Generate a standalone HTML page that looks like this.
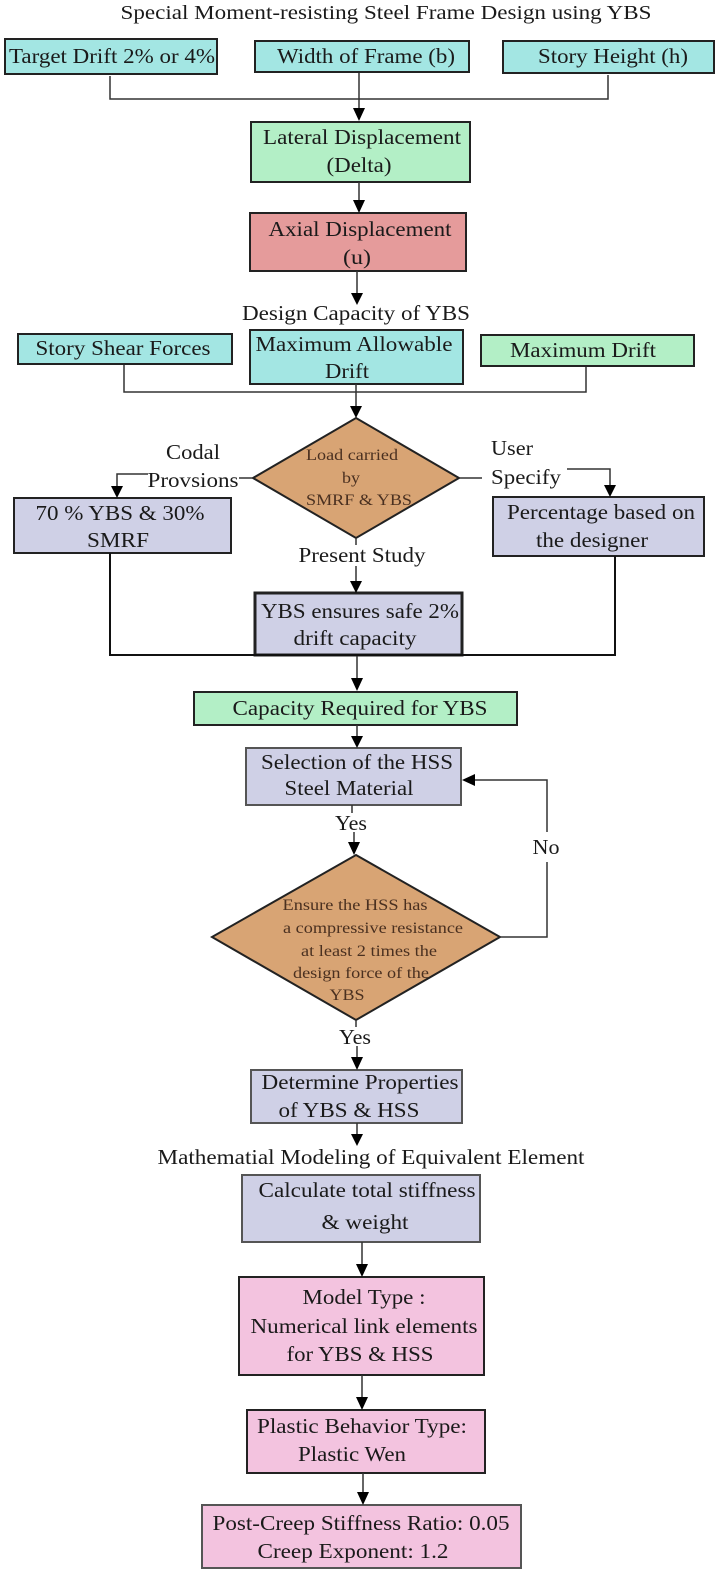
<!DOCTYPE html>
<html><head><meta charset="utf-8"><style>
html,body{margin:0;padding:0;background:#fff}
svg{display:block}
text{font-family:"Liberation Serif","Times New Roman",serif;fill:#1a1a1a}
.b{font-size:21px}
.d{font-size:16px;fill:#4a3020}
</style></head><body>
<svg width="718" height="1574" viewBox="0 0 718 1574" xmlns="http://www.w3.org/2000/svg">
<g stroke="#222" stroke-width="2">
<rect x="5" y="39" width="212" height="35" fill="#a3e6e3"/>
<rect x="255" y="41" width="214" height="31" fill="#a3e6e3"/>
<rect x="503" y="41" width="211" height="32" fill="#a3e6e3"/>
<rect x="251" y="122" width="219" height="60" fill="#b3efc6"/>
<rect x="250" y="213" width="216" height="58" fill="#e59b9b"/>
<rect x="18" y="334" width="214" height="30" fill="#a3e6e3"/>
<rect x="250" y="330" width="213" height="54" fill="#a3e6e3"/>
<rect x="481" y="335" width="213" height="31" fill="#b3efc6"/>
<polygon points="356,418 459,478 356,538 253,478" fill="#d8a474"/>
<rect x="14" y="498" width="217" height="55" fill="#cfd0e6"/>
<rect x="493" y="497" width="211" height="59" fill="#cfd0e6"/>
<rect x="255" y="593" width="207" height="62" fill="#cfd0e6" stroke-width="3"/>
<rect x="194" y="692" width="323" height="33" fill="#b3efc6"/>
<rect x="246" y="748" width="215" height="57" fill="#cfd0e6" stroke="#555"/>
<polygon points="356,855 500,937 356,1020 212,937" fill="#d8a474"/>
<rect x="251" y="1070" width="211" height="53" fill="#cfd0e6" stroke="#555"/>
<rect x="242" y="1175" width="238" height="67" fill="#cfd0e6" stroke="#555"/>
<rect x="239" y="1277" width="245" height="98" fill="#f3c3df"/>
<rect x="247" y="1410" width="238" height="63" fill="#f3c3df"/>
<rect x="202" y="1505" width="319" height="63" fill="#f3c3df" stroke="#555"/>
</g>
<g stroke="#333" stroke-width="1.5" fill="none">
<path d="M110,76 V99 H608 V75"/>
<path d="M359,73 V110"/>
<path d="M359,182 V202"/>
<path d="M357,271 V295"/>
<path d="M124,365 V392 H586 V367"/>
<path d="M356,384 V408"/>
<path d="M253,478 H239"/>
<path d="M148,474 H117 V488"/>
<path d="M459,478 H482"/>
<path d="M567,469 H610 V487"/>
<path d="M356,538 V545"/>
<path d="M356,566 V583"/>
<path d="M110,553 V655 H615 V556" stroke="#111" stroke-width="2"/>
<path d="M357,656 V680"/>
<path d="M357,725 V737"/>
<path d="M352,805 V813"/>
<path d="M354,832 V843"/>
<path d="M500,937 H547 V862"/>
<path d="M547,832 V780 H473"/>
<path d="M356,1020 V1027"/>
<path d="M357,1046 V1058"/>
<path d="M357,1123 V1135"/>
<path d="M362,1242 V1265"/>
<path d="M362,1375 V1398"/>
<path d="M363,1473 V1493"/>
</g>
<g fill="#000">
<polygon points="353,108 365,108 359,121"/>
<polygon points="353,200 365,200 359,213"/>
<polygon points="351,293 363,293 357,305"/>
<polygon points="350,406 362,406 356,418"/>
<polygon points="111,486 123,486 117,498"/>
<polygon points="604,485 616,485 610,497"/>
<polygon points="350,581 362,581 356,593"/>
<polygon points="351,678 363,678 357,691"/>
<polygon points="351,736 363,736 357,748"/>
<polygon points="348,842 360,842 354,855"/>
<polygon points="475,774 475,786 462,780"/>
<polygon points="351,1057 363,1057 357,1070"/>
<polygon points="351,1134 363,1134 357,1146"/>
<polygon points="356,1264 368,1264 362,1277"/>
<polygon points="356,1397 368,1397 362,1410"/>
<polygon points="357,1492 369,1492 363,1505"/>
</g>
<g text-anchor="middle">
<text x="386" y="19" font-size="20" textLength="531" lengthAdjust="spacingAndGlyphs">Special Moment-resisting Steel Frame Design using YBS</text>
<text class="b" x="112" y="63" textLength="206" lengthAdjust="spacingAndGlyphs">Target Drift 2% or 4%</text>
<text class="b" x="366" y="63" textLength="178" lengthAdjust="spacingAndGlyphs">Width of Frame (b)</text>
<text class="b" x="613" y="63" textLength="150" lengthAdjust="spacingAndGlyphs">Story Height (h)</text>
<text class="b" x="362" y="144" textLength="198" lengthAdjust="spacingAndGlyphs">Lateral Displacement</text>
<text class="b" x="359" y="172" textLength="65" lengthAdjust="spacingAndGlyphs">(Delta)</text>
<text class="b" x="360" y="236" textLength="183" lengthAdjust="spacingAndGlyphs">Axial Displacement</text>
<text class="b" x="357" y="264" textLength="28" lengthAdjust="spacingAndGlyphs">(u)</text>
<text class="b" x="356" y="320" textLength="228" lengthAdjust="spacingAndGlyphs">Design Capacity of YBS</text>
<text class="b" x="123" y="355" textLength="175" lengthAdjust="spacingAndGlyphs">Story Shear Forces</text>
<text class="b" x="354" y="351" textLength="197" lengthAdjust="spacingAndGlyphs">Maximum Allowable</text>
<text class="b" x="347" y="378" textLength="44" lengthAdjust="spacingAndGlyphs">Drift</text>
<text class="b" x="583" y="357" textLength="146" lengthAdjust="spacingAndGlyphs">Maximum Drift</text>
<text class="d" x="352" y="460" textLength="92" lengthAdjust="spacingAndGlyphs">Load carried</text>
<text class="d" x="351" y="483" textLength="18" lengthAdjust="spacingAndGlyphs">by</text>
<text class="d" x="359" y="505" textLength="106" lengthAdjust="spacingAndGlyphs">SMRF &amp; YBS</text>
<text class="b" x="193" y="459" textLength="54" lengthAdjust="spacingAndGlyphs">Codal</text>
<text class="b" x="193" y="487" textLength="91" lengthAdjust="spacingAndGlyphs">Provsions</text>
<text class="b" x="512" y="455" textLength="42" lengthAdjust="spacingAndGlyphs">User</text>
<text class="b" x="526" y="484" textLength="70" lengthAdjust="spacingAndGlyphs">Specify</text>
<text class="b" x="120" y="520" textLength="169" lengthAdjust="spacingAndGlyphs">70 % YBS &amp; 30%</text>
<text class="b" x="118" y="547" textLength="62" lengthAdjust="spacingAndGlyphs">SMRF</text>
<text class="b" x="601" y="519" textLength="188" lengthAdjust="spacingAndGlyphs">Percentage based on</text>
<text class="b" x="592" y="547" textLength="112" lengthAdjust="spacingAndGlyphs">the designer</text>
<text class="b" x="362" y="562" textLength="127" lengthAdjust="spacingAndGlyphs">Present Study</text>
<text class="b" x="360" y="618" textLength="198" lengthAdjust="spacingAndGlyphs">YBS ensures safe 2%</text>
<text class="b" x="355" y="645" textLength="123" lengthAdjust="spacingAndGlyphs">drift capacity</text>
<text class="b" x="360" y="715" textLength="255" lengthAdjust="spacingAndGlyphs">Capacity Required for YBS</text>
<text class="b" x="357" y="769" textLength="192" lengthAdjust="spacingAndGlyphs">Selection of the HSS</text>
<text class="b" x="349" y="795" textLength="129" lengthAdjust="spacingAndGlyphs">Steel Material</text>
<text class="b" x="351" y="830" textLength="32" lengthAdjust="spacingAndGlyphs">Yes</text>
<text class="b" x="546" y="854" textLength="27" lengthAdjust="spacingAndGlyphs">No</text>
<text class="d" x="355" y="910" textLength="145" lengthAdjust="spacingAndGlyphs">Ensure the HSS has</text>
<text class="d" x="373" y="933" textLength="180" lengthAdjust="spacingAndGlyphs">a compressive resistance</text>
<text class="d" x="369" y="956" textLength="136" lengthAdjust="spacingAndGlyphs">at least 2 times the</text>
<text class="d" x="361" y="978" textLength="136" lengthAdjust="spacingAndGlyphs">design force of the</text>
<text class="d" x="347" y="1000" textLength="35" lengthAdjust="spacingAndGlyphs">YBS</text>
<text class="b" x="355" y="1044" textLength="32" lengthAdjust="spacingAndGlyphs">Yes</text>
<text class="b" x="360" y="1089" textLength="197" lengthAdjust="spacingAndGlyphs">Determine Properties</text>
<text class="b" x="349" y="1117" textLength="141" lengthAdjust="spacingAndGlyphs">of YBS &amp; HSS</text>
<text class="b" x="371" y="1164" textLength="427" lengthAdjust="spacingAndGlyphs">Mathematial Modeling of Equivalent Element</text>
<text class="b" x="367" y="1197" textLength="217" lengthAdjust="spacingAndGlyphs">Calculate total stiffness</text>
<text class="b" x="365" y="1229" textLength="87" lengthAdjust="spacingAndGlyphs">&amp; weight</text>
<text class="b" x="364" y="1304" textLength="123" lengthAdjust="spacingAndGlyphs">Model Type :</text>
<text class="b" x="364" y="1333" textLength="227" lengthAdjust="spacingAndGlyphs">Numerical link elements</text>
<text class="b" x="360" y="1361" textLength="147" lengthAdjust="spacingAndGlyphs">for YBS &amp; HSS</text>
<text class="b" x="362" y="1433" textLength="210" lengthAdjust="spacingAndGlyphs">Plastic Behavior Type:</text>
<text class="b" x="352" y="1461" textLength="108" lengthAdjust="spacingAndGlyphs">Plastic Wen</text>
<text class="b" x="361" y="1530" textLength="297" lengthAdjust="spacingAndGlyphs">Post-Creep Stiffness Ratio: 0.05</text>
<text class="b" x="353" y="1558" textLength="191" lengthAdjust="spacingAndGlyphs">Creep Exponent: 1.2</text>
</g>
</svg>
</body></html>
